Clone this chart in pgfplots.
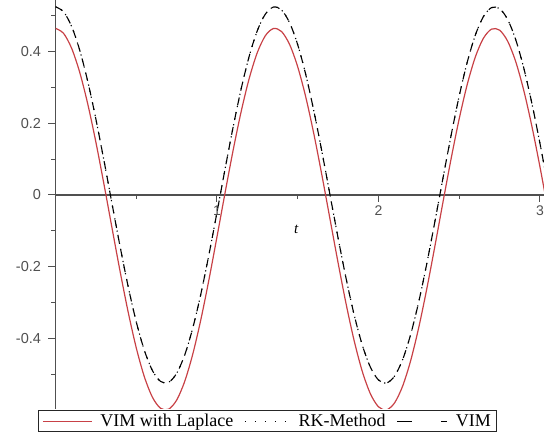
\documentclass[border=0pt]{standalone}
\usepackage{fontspec}
\setmainfont{Liberation Serif}
\newfontfamily\ticfont{Liberation Sans}
\usepackage{pgfplots}
\usepackage{pgfplotstable}
\pgfplotsset{compat=1.18}
\definecolor{legred}{RGB}{200,65,70}
\definecolor{axgray}{RGB}{80,80,80}

\pgfplotstableread{
t red black
0.00 0.4650 0.5250
0.05 0.4509 0.5111
0.10 0.4092 0.4700
0.15 0.3422 0.4039
0.20 0.2534 0.3164
0.25 0.1476 0.2121
0.30 0.0303 0.0965
0.35 -0.0921 -0.0242
0.40 -0.2132 -0.1437
0.45 -0.3266 -0.2555
0.50 -0.4262 -0.3537
0.55 -0.5068 -0.4331
0.60 -0.5640 -0.4896
0.65 -0.5949 -0.5200
0.70 -0.5977 -0.5228
0.75 -0.5724 -0.4978
0.80 -0.5202 -0.4464
0.85 -0.4440 -0.3712
0.90 -0.3478 -0.2764
0.95 -0.2367 -0.1668
1.00 -0.1166 -0.0484
1.05 0.0061 0.0725
1.10 0.1249 0.1897
1.15 0.2334 0.2967
1.20 0.3260 0.3880
1.25 0.3977 0.4587
1.30 0.4447 0.5050
1.35 0.4644 0.5244
1.40 0.4559 0.5161
1.45 0.4196 0.4803
1.50 0.3574 0.4190
1.55 0.2727 0.3354
1.60 0.1699 0.2340
1.65 0.0544 0.1202
1.70 -0.0675 0.0000
1.75 -0.1894 -0.1202
1.80 -0.3049 -0.2340
1.85 -0.4077 -0.3354
1.90 -0.4925 -0.4190
1.95 -0.5546 -0.4803
2.00 -0.5909 -0.5161
2.05 -0.5994 -0.5244
2.10 -0.5797 -0.5050
2.15 -0.5327 -0.4587
2.20 -0.4610 -0.3880
2.25 -0.3684 -0.2967
2.30 -0.2598 -0.1896
2.35 -0.1411 -0.0725
2.40 -0.0184 0.0485
2.45 0.1017 0.1669
2.50 0.2128 0.2764
2.55 0.3090 0.3712
2.60 0.3853 0.4464
2.65 0.4374 0.4978
2.70 0.4627 0.5228
2.75 0.4599 0.5200
2.80 0.4290 0.4895
2.85 0.3718 0.4331
2.90 0.2912 0.3537
2.95 0.1916 0.2555
3.00 0.0784 0.1438
3.05 -0.0429 0.0242
}\datatable

\begin{document}
\begin{tikzpicture}
\path[use as bounding box] (0pt,0pt) rectangle (544pt,436pt);
\begin{axis}[
  at={(55.5pt,27pt)}, anchor=south west,
  scale only axis, width=488.5pt, height=409pt,
  xmin=0, xmax=3.025, ymin=-0.597, ymax=0.544,
  axis lines=middle,
  axis line style={axgray, line width=1.3pt, -},
  xtick={1,2,3}, xticklabels={1,2,3},
  ytick={-0.4,-0.2,0,0.2,0.4}, yticklabels={-0.4,-0.2,0,0.2,0.4},
  minor xtick={0.5,1.5,2.5},
  minor ytick={-0.5,-0.3,-0.1,0.1,0.3,0.5},
  hide obscured y ticks=false,
  tick style={axgray, line width=1pt},
  tick align=outside, major tick length=7pt, minor tick length=4pt,
  ticklabel style={font=\fontsize{14.5}{14.5}\selectfont\ticfont, text=axgray},
  yticklabel style={xshift=-4pt},
  xticklabel style={font=\fontsize{14}{14}\selectfont\ticfont},
  clip=true,
  legend style={at={(0.434,-0.0303)}, anchor=center, legend columns=3,
    draw=black!85, line width=0.8pt, font=\fontsize{18}{18}\selectfont,
    inner xsep=4pt, inner ysep=1.5pt,
    /tikz/every odd column/.append style={column sep=6pt},
    /tikz/every even column/.append style={column sep=9pt}},
]
\addplot[legred, line width=1.2pt, smooth,
  legend image code/.code={\draw[legred,line width=1.2pt] (0pt,0pt) -- (49pt,0pt);}]
  table[x=t,y=red] {\datatable};
\addplot[black, line width=1.1pt, smooth, dash pattern=on 1.2pt off 5pt,
  legend image code/.code={\draw[black,line width=1.2pt,dash pattern=on 1.5pt off 8.5pt] (0pt,0pt) -- (45pt,0pt);}]
  table[x=t,y=black] {\datatable};
\addplot[black, line width=1.1pt, smooth, dash pattern=on 8pt off 7pt,
  legend image code/.code={\draw[black,line width=1.2pt,dash pattern=on 15pt off 29pt on 6pt off 10pt] (0pt,0pt) -- (50pt,0pt);}]
  table[x=t,y=black] {\datatable};
\legend{VIM with Laplace, RK-Method, VIM}
\node[font=\fontsize{15}{15}\selectfont\itshape] at (axis cs:1.49,-0.095) {t};
\end{axis}
\end{tikzpicture}
\end{document}
